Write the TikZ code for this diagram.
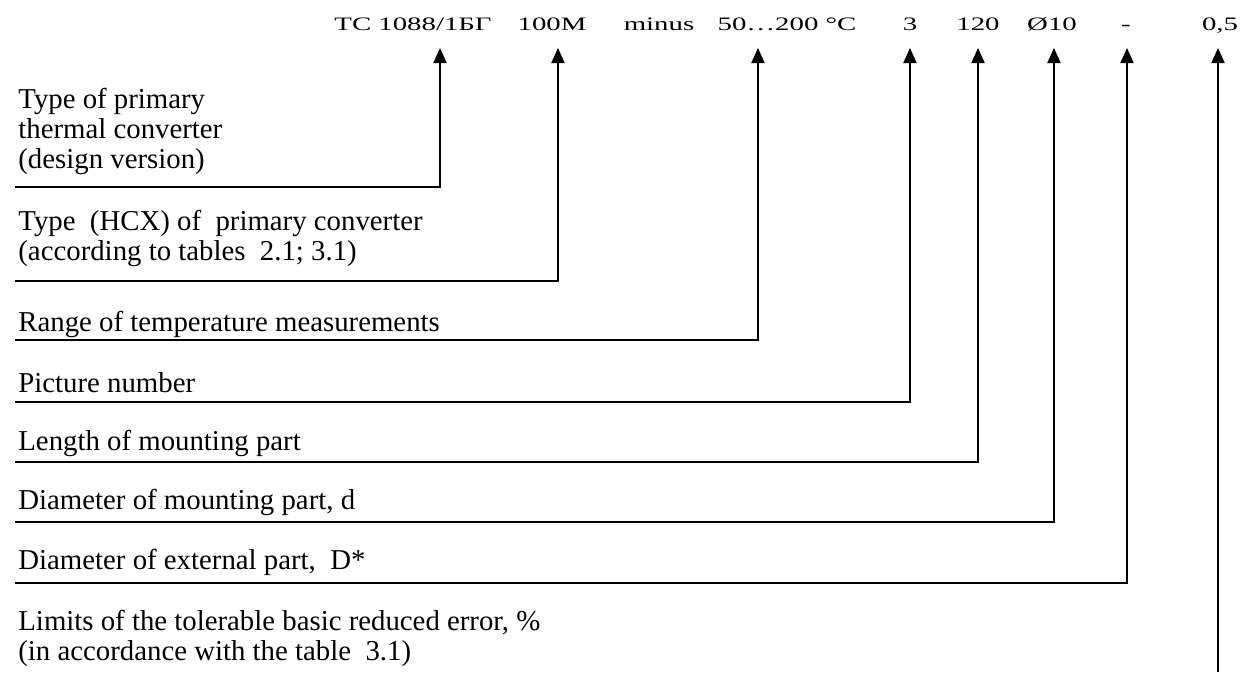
\documentclass[tikz,border=0pt]{standalone}
\usepackage{fontspec}
\usepackage{graphicx}
\setmainfont{Liberation Serif}
\usetikzlibrary{arrows.meta}

\newcommand{\squash}[1]{\scalebox{1}[0.66]{#1}}
\tikzset{
  lbl/.style={anchor=base west,inner sep=0pt,align=left,font=\fontsize{14.4}{15}\selectfont},
  code/.style={anchor=base,inner sep=0pt,font=\fontsize{14.4}{14}\selectfont},
  lead/.style={line width=1pt,-{Triangle[length=7.5pt,width=6.5pt]}},
}

\begin{document}
\begin{tikzpicture}[x=0.5pt,y=-0.5pt]
\useasboundingbox (0,0) rectangle (1240,675);
% designation line
\node[code] (tc) at (413,30) {\squash{TC 1088/1БГ}};
\node[code] (nsh) at (552,30) {\squash{100M}};
\node[code] (mns) at (659,30) {\squash{minus}};
\node[code] (rng) at (787,30) {\squash{50…200 °C}};
\node[code] (pic) at (910,30) {\squash{3}};
\node[code] (len) at (978,30) {\squash{120}};
\node[code] (dia) at (1052,30) {\squash{Ø10}};
\node[code] (ext) at (1126,30) {\squash{-}};
\node[code] (err) at (1220,30) {\squash{0,5}};
% arrow tips under the designation
\coordinate (p1) at (440,48);
\coordinate (p2) at (558,48);
\coordinate (p3) at (758,48);
\coordinate (p4) at (910,48);
\coordinate (p5) at (978,48);
\coordinate (p6) at (1054,48);
\coordinate (p7) at (1127,48);
\coordinate (p8) at (1218,48);
% explanations (base = last line)
\node[lbl] (ltype) at (18,168) {Type of primary\\thermal converter\\(design version)};
\node[lbl] (lnsh) at (18,260) {Type~ (HCX) of~ primary converter\\(according to tables~ 2.1; 3.1)};
\node[lbl] (lrng) at (18,331) {Range of temperature measurements};
\node[lbl] (lpic) at (18,392) {Picture number};
\node[lbl] (llen) at (18,450) {Length of mounting part};
\node[lbl] (ldia) at (18,509) {Diameter of mounting part, d};
\node[lbl] (lext) at (18,569) {Diameter of external part,~ D*};
\node[lbl] (lerr) at (18,660) {Limits of the tolerable basic reduced error, \%\\(in accordance with the table~ 3.1)};
\coordinate (s1) at (15,187);
\coordinate (s2) at (15,281);
\coordinate (s3) at (15,340);
\coordinate (s4) at (15,402);
\coordinate (s5) at (15,462);
\coordinate (s6) at (15,522);
\coordinate (s7) at (15,583);
\coordinate (s8) at (1218,672);
\foreach \s/\p in {s1/p1,s2/p2,s3/p3,s4/p4,s5/p5,s6/p6,s7/p7}
  \draw[lead] (\s) -| (\p);
\draw[lead] (s8) -- (p8);
\end{tikzpicture}
\end{document}
